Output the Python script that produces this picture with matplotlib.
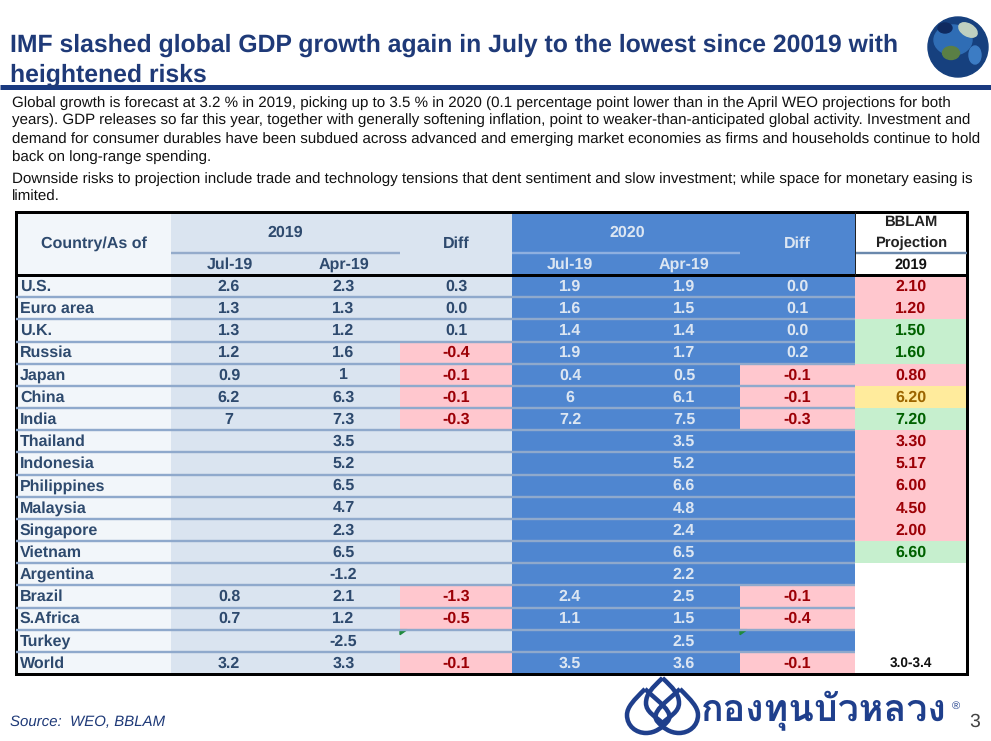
import matplotlib
matplotlib.use('Agg')
import matplotlib.pyplot as plt
from matplotlib import font_manager
from matplotlib.patches import Rectangle, Circle, Ellipse, Polygon, PathPatch
from matplotlib.path import Path

countries = ['U.S.', 'Euro area', 'U.K.', 'Russia', 'Japan', 'China', 'India', 'Thailand', 'Indonesia',
             'Philippines', 'Malaysia', 'Singapore', 'Vietnam', 'Argentina', 'Brazil', 'S.Africa', 'Turkey', 'World']
jul_2019 = ['2.6', '1.3', '1.3', '1.2', '0.9', '6.2', '7', '', '', '', '', '', '', '', '0.8', '0.7', '', '3.2']
apr_2019 = ['2.3', '1.3', '1.2', '1.6', '1', '6.3', '7.3', '3.5', '5.2', '6.5', '4.7', '2.3', '6.5', '-1.2', '2.1', '1.2', '-2.5', '3.3']
diff_2019 = ['0.3', '0.0', '0.1', '-0.4', '-0.1', '-0.1', '-0.3', '', '', '', '', '', '', '', '-1.3', '-0.5', '', '-0.1']
jul_2020 = ['1.9', '1.6', '1.4', '1.9', '0.4', '6', '7.2', '', '', '', '', '', '', '', '2.4', '1.1', '', '3.5']
apr_2020 = ['1.9', '1.5', '1.4', '1.7', '0.5', '6.1', '7.5', '3.5', '5.2', '6.6', '4.8', '2.4', '6.5', '2.2', '2.5', '1.5', '2.5', '3.6']
diff_2020 = ['0.0', '0.1', '0.0', '0.2', '-0.1', '-0.1', '-0.3', '', '', '', '', '', '', '', '-0.1', '-0.4', '', '-0.1']
projection = ['2.10', '1.20', '1.50', '1.60', '0.80', '6.20', '7.20', '3.30', '5.17', '6.00', '4.50', '2.00', '6.60', '', '', '', '', '3.0-3.4']
proj_state = ['r', 'r', 'g', 'g', 'r', 'y', 'g', 'r', 'r', 'r', 'r', 'r', 'g', '', '', '', '', '']

title_lines = ['IMF slashed global GDP growth again in July to the lowest since 20019 with', 'heightened risks']
body_lines = ['Global growth is forecast at 3.2 % in 2019, picking up to 3.5 % in 2020 (0.1 percentage point lower than in the April WEO projections for both',
              'years). GDP releases so far this year, together with generally softening inflation, point to weaker-than-anticipated global activity. Investment and',
              'demand for consumer durables have been subdued across advanced and emerging market economies as firms and households continue to hold',
              'back on long-range spending.',
              'Downside risks to projection include trade and technology tensions that dent sentiment and slow investment; while space for monetary easing is',
              'limited.']
body_y = [103, 120, 139, 157, 179, 197]

NAVY = '#1F3A78'
DARK = '#2E4A6E'
LIGHT = '#DCE6F2'
BLUE = '#4F86D0'
PALE = '#DAE4F0'
CELL = {'r': ('#FFC7CE', '#9C0006'), 'g': ('#C6EFCE', '#006100'), 'y': ('#FFEB9C', '#9C6500')}

# column edges and row grid in pixels
col_x = [16, 171, 287, 400, 512, 628, 740, 855, 967]
top, head, bottom = 212, 275, 674
row_h = (bottom - head) / len(countries)

plt.rcParams['font.family'] = ['Liberation Sans', 'DejaVu Sans']
plt.rcParams['text.hinting'] = 'no_hinting'
fig = plt.figure(figsize=(9.91, 7.41), dpi=100)
ax = fig.add_axes([0, 0, 1, 1])
ax.set_xlim(0, 991)
ax.set_ylim(741, 0)
ax.axis('off')


def px(w):
    return w * 0.72


def band(x0, x1, y0, y1, color):
    ax.add_patch(Rectangle((x0, y0), x1 - x0, y1 - y0, facecolor=color, edgecolor='none'))


def label(x, y, s, color=DARK, size=11.5, weight='bold', ha='center', **kw):
    ax.text(x, y, s, color=color, fontsize=size, fontweight=weight, ha=ha, va='center', **kw)


# title and intro text
for i, line in enumerate(title_lines):
    label(10, 45 + i * 30, line, NAVY, 17.87, ha='left')
ax.plot([0, 991], [87, 87], color='#1A3A80', lw=px(5), solid_capstyle='butt')
for y, line in zip(body_y, body_lines):
    label(12, y, line, '#111111', 10.88, 'normal', ha='left')

# globe
ax.add_patch(Circle((958, 47), 30, color='#16407E'))
ax.add_patch(Ellipse((953, 40), 38, 30, color='#2F6DB5'))
ax.add_patch(Ellipse((951, 53), 17, 13, color='#5A7F45'))
ax.add_patch(Ellipse((968, 30), 20, 12, angle=30, color='#BFD0C0'))
ax.add_patch(Ellipse((945, 28), 14, 10, color='#0F2A60'))
ax.add_patch(Ellipse((975, 55), 12, 18, color='#3C7CC4'))

# table backgrounds
band(col_x[0], col_x[1], top, bottom, '#F2F6FA')
band(col_x[1], col_x[4], top, bottom, PALE)
band(col_x[4], col_x[7], top, bottom, BLUE)

for i, name in enumerate(countries):
    y0 = head + i * row_h
    if diff_2019[i].startswith('-'):
        band(col_x[3], col_x[4], y0, y0 + row_h, CELL['r'][0])
    if diff_2020[i].startswith('-'):
        band(col_x[6], col_x[7], y0, y0 + row_h, CELL['r'][0])
    if proj_state[i]:
        band(col_x[7], col_x[8], y0, y0 + row_h, CELL[proj_state[i]][0])

# row separators
for i in range(1, len(countries)):
    y = head + i * row_h
    ax.plot([col_x[0], col_x[7]], [y, y], color='#8FA9CC', lw=px(2.4), solid_capstyle='butt')

# header
band(col_x[7], col_x[8], top, head, 'white')
for x0, x1, c in [(col_x[1], col_x[3], '#94ABCB'), (col_x[4], col_x[6], '#8FB0E0'), (col_x[7], col_x[8], '#6A88AC')]:
    ax.plot([x0, x1], [253, 253], color=c, lw=px(2.4), solid_capstyle='butt')
col_c = [(col_x[j] + col_x[j + 1]) / 2 for j in range(8)]
label(col_c[0], 243.5, 'Country/As of')
label((col_x[1] + col_x[3]) / 2 - 0.5, 232.5, '2019')
label(col_c[3], 243.5, 'Diff')
label(col_c[1] + 0.5, 264.5, 'Jul-19')
label(col_c[2], 264.5, 'Apr-19')
label((col_x[4] + col_x[6]) / 2 + 1, 232.5, '2020', LIGHT)
label(col_c[6], 243.5, 'Diff', LIGHT)
label(col_c[4] - 0.5, 264.5, 'Jul-19', LIGHT)
label(col_c[5], 264.5, 'Apr-19', LIGHT)
label(col_c[7], 222.5, 'BBLAM', '#222222', 10.6)
label(col_c[7], 243.5, 'Projection', '#222222', 10.6)
label(col_c[7], 265, '2019', '#111111', 10.6)

# body cells
for i, name in enumerate(countries):
    yc = head + (i + 0.5) * row_h + 0.5
    label(20, yc, name, ha='left')
    for j, vals, txt in [(1, jul_2019, DARK), (2, apr_2019, DARK), (3, diff_2019, DARK),
                         (4, jul_2020, LIGHT), (5, apr_2020, LIGHT), (6, diff_2020, LIGHT)]:
        s = vals[i]
        if s:
            label(col_c[j], yc, s, CELL['r'][1] if s.startswith('-') and j in (3, 6) else txt)
    if proj_state[i]:
        label(col_c[7], yc, projection[i], CELL[proj_state[i]][1])
    elif projection[i]:
        label(col_c[7], yc, projection[i], '#111111', 9.8)

# excel error markers on the Turkey row
y_turkey = head + countries.index('Turkey') * row_h
for x in (col_x[3], col_x[6]):
    ax.add_patch(Polygon([(x, y_turkey), (x + 7, y_turkey), (x, y_turkey + 5)], color='#1E8A3C'))

# frame
ax.add_patch(Rectangle((col_x[0], top), col_x[8] - col_x[0], bottom - top, fill=False, edgecolor='black', lw=px(3)))
ax.plot([col_x[0], col_x[8]], [head, head], color='black', lw=px(3), solid_capstyle='butt')
ax.plot([col_x[7], col_x[7]], [top, head], color='#222222', lw=px(1), solid_capstyle='butt')

# footer
label(10, 722, 'Source:  WEO, BBLAM', NAVY, 10.8, 'normal', ha='left', style='italic')
label(975, 722, '3', '#444444', 14, 'normal')

# logo petals, mirrored around the middle one
LOGO = '#1F3F8C'
M, C4 = Path.MOVETO, Path.CURVE4
mid = 662.5
centre = [(mid, 678), (652, 688), (646, 694), (646, 703), (646, 712), (655, 716), (mid, 723),
          (670, 716), (679, 712), (679, 703), (679, 694), (673, 688), (mid, 678)]
side = [(645, 689), (634, 700), (627, 707), (627, 715), (627, 726), (636, 733), (646, 733),
        (655, 733), (662, 728), (668, 721), (674, 712), (660, 703), (645, 689)]
codes = [M] + [C4] * 12
for pts in (centre, side, [(2 * mid - x, y) for x, y in side]):
    ax.add_patch(PathPatch(Path(pts, codes), fill=False, edgecolor=LOGO, lw=px(4.5)))

# brand name needs a font with thai glyphs
thai_font = None
for f in font_manager.fontManager.ttflist:
    try:
        if 0x0E01 in font_manager.get_font(f.fname).get_charmap():
            thai_font = f.name
            break
    except Exception:
        pass
if thai_font:
    ax.text(701, 711, 'กองทุนบัวหลวง', color=LOGO, fontsize=27, fontweight='bold', family=thai_font, ha='left', va='center')
else:
    ax.text(701, 711, 'กองทุนบัวหลวง', color=LOGO, fontsize=27, fontweight='bold', ha='left', va='center')
label(956, 706, '®', LOGO, 8, 'normal')

fig.savefig('out.png', dpi=100)
